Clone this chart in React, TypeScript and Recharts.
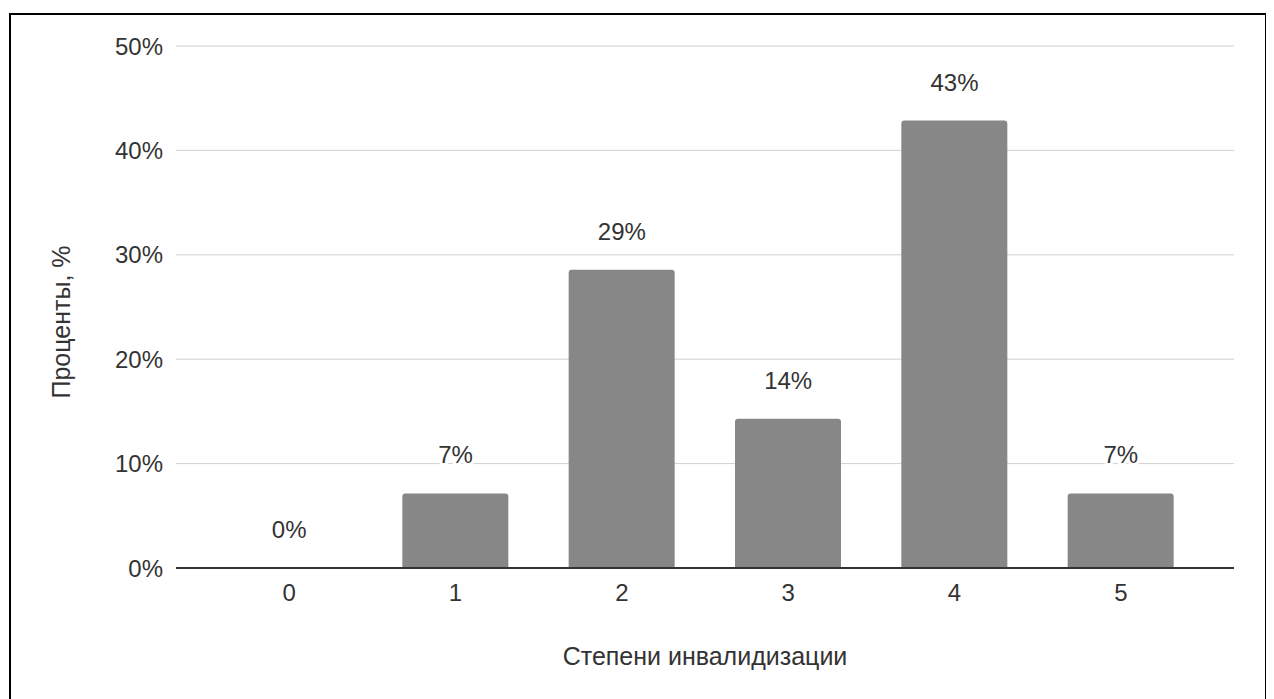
import { ComposedChart, Bar, Line, XAxis, YAxis, CartesianGrid, LabelList, Label } from "recharts";

const FONT = '"Liberation Sans", Arial, sans-serif';
const TEXT = "#333";

const degrees = ["0", "1", "2", "3", "4", "5"];
const percents = [0, 7.14, 28.57, 14.29, 42.86, 7.14];
const yTicks = [0, 10, 20, 30, 40, 50];

const data = degrees.map((d, i) => ({ name: d, value: percents[i] }));

const TICK = { fontSize: 24, fill: TEXT, fontFamily: FONT };

// labels hang off an invisible line so the zero bar still gets its "0%"
const renderValue = (props: any) => {
  const { x, y, value } = props;
  return (
    <text
      x={Number(x)}
      y={Number(y) - 30}
      textAnchor="middle"
      fontSize={24}
      fill={TEXT}
      fontFamily={FONT}
      stroke="#fff"
      strokeWidth={6}
      strokeLinejoin="round"
      paintOrder="stroke"
    >
      {`${Math.round(Number(value))}%`}
    </text>
  );
};

export default function App() {
  return (
    <div
      style={{
        width: 1258,
        height: 690,
        border: "2px solid #000",
        boxSizing: "border-box",
        marginTop: 5,
        marginLeft: 1,
        background: "#fff",
      }}
    >
      <ComposedChart
        width={1254}
        height={680}
        data={data}
        margin={{ top: 31, right: 31, left: 0, bottom: 30 }}
      >
        <CartesianGrid stroke="#d0d0d0" vertical={false} />
        <XAxis
          dataKey="name"
          tick={TICK}
          tickLine={false}
          tickMargin={10}
          axisLine={{ stroke: "#333", strokeWidth: 2 }}
          padding={{ left: 30, right: 30 }}
          height={97}
        >
          <Label
            value="Степени инвалидизации"
            position="insideBottom"
            offset={0}
            style={{ fontSize: 25, fill: TEXT, fontFamily: FONT }}
          />
        </XAxis>
        <YAxis
          domain={[0, 50]}
          ticks={yTicks}
          tickFormatter={(v) => `${v}%`}
          tick={TICK}
          tickLine={false}
          axisLine={false}
          tickMargin={7}
          width={165}
        >
          <Label
            content={({ viewBox }: any) => {
              const cy = viewBox.y + viewBox.height / 2 + 15;
              return (
                <text
                  x={50}
                  y={cy}
                  transform={`rotate(-90, 50, ${cy})`}
                  textAnchor="middle"
                  dominantBaseline="central"
                  fontSize={25}
                  fill={TEXT}
                  fontFamily={FONT}
                >
                  Проценты, %
                </text>
              );
            }}
          />
        </YAxis>
        <Bar dataKey="value" fill="#878787" barSize={106} radius={[3, 3, 0, 0]} isAnimationActive={false} />
        <Line
          dataKey="value"
          stroke="none"
          dot={false}
          activeDot={false}
          legendType="none"
          isAnimationActive={false}
        >
          <LabelList dataKey="value" content={renderValue} />
        </Line>
      </ComposedChart>
    </div>
  );
}
